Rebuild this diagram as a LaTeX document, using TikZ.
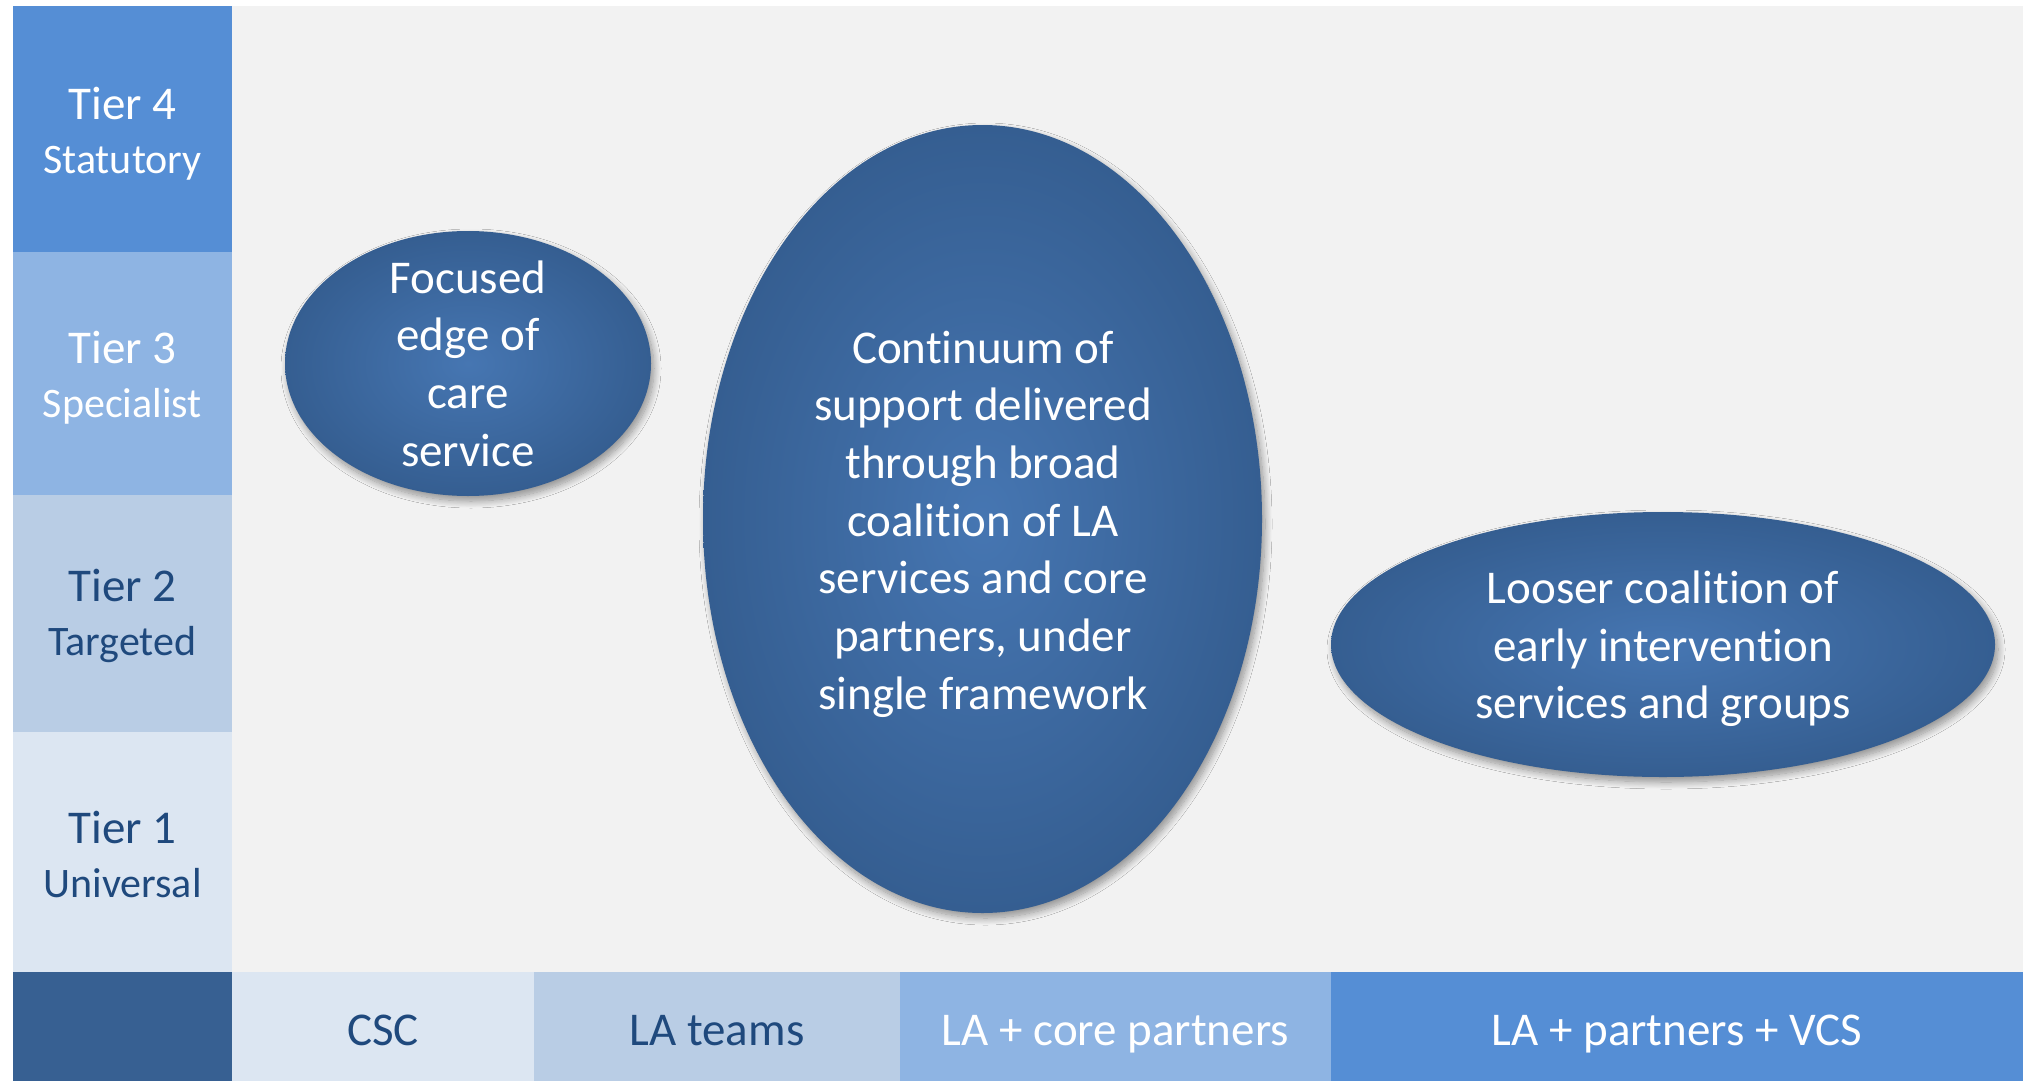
\documentclass[tikz,border=0pt]{standalone}
\usepackage{fontspec}
\setmainfont{Carlito}[RawFeature={-liga;-clig;-calt;-dlig}]
\usetikzlibrary{shapes.geometric,shadows.blur}
\definecolor{tierA}{HTML}{558ED5}
\definecolor{tierB}{HTML}{8EB4E3}
\definecolor{tierC}{HTML}{B9CDE5}
\definecolor{tierD}{HTML}{DCE6F2}
\definecolor{darkbox}{HTML}{376092}
\definecolor{bgGray}{HTML}{F2F2F2}
\definecolor{txtDark}{HTML}{1F497D}
\definecolor{ellIn}{HTML}{4676B2}
\definecolor{ellOut}{HTML}{355E91}
\begin{document}
\begin{tikzpicture}[x=1pt,y=-1pt,
  cell/.style={inner sep=0pt, outer sep=0pt, anchor=north west},
  big/.style={font=\fontsize{47}{57.7}\selectfont, inner sep=0pt, anchor=base},
  small/.style={font=\fontsize{42}{50}\selectfont, inner sep=0pt, anchor=base},
  ell/.style={ellipse, inner sep=0pt, shading=radial, inner color=ellIn, outer color=ellOut,
    blur shadow={shadow xshift=3pt, shadow yshift=-5pt, shadow blur radius=7pt, shadow blur steps=12, shadow opacity=40}},
  elltext/.style={align=center, text=white, font=\fontsize{47}{57.7}\selectfont, inner sep=0pt}
]
\useasboundingbox (0,0) rectangle (2023,1081);
\fill[white] (0,0) rectangle (2023,1081);
\node[cell, fill=bgGray, minimum width=1791pt, minimum height=966pt] (bg) at (232,6) {};
% tier column
\node[cell, fill=tierA, minimum width=219pt, minimum height=246pt] (t4) at (13,6) {};
\node[cell, fill=tierB, minimum width=219pt, minimum height=243pt] (t3) at (13,252) {};
\node[cell, fill=tierC, minimum width=219pt, minimum height=237pt] (t2) at (13,495) {};
\node[cell, fill=tierD, minimum width=219pt, minimum height=240pt] (t1) at (13,732) {};
\node[cell, fill=darkbox, minimum width=219pt, minimum height=109pt] (corner) at (13,972) {};
% bottom row
\node[cell, fill=tierD, minimum width=302pt, minimum height=109pt] (csc) at (232,972) {};
\node[cell, fill=tierC, minimum width=366pt, minimum height=109pt] (lat) at (534,972) {};
\node[cell, fill=tierB, minimum width=431pt, minimum height=109pt] (lac) at (900,972) {};
\node[cell, fill=tierA, minimum width=692pt, minimum height=109pt] (lav) at (1331,972) {};
% tier labels
\node[big, text=white] (t4a) at (122.5,119) {Tier 4};
\node[small, text=white] (t4b) at (122.5,173) {Statutory};
\node[big, text=white] (t3a) at (122.5,363) {Tier 3};
\node[small, text=white] (t3b) at (122.5,417) {Specialist};
\node[big, text=txtDark] (t2a) at (122.5,601.5) {Tier 2};
\node[small, text=txtDark] (t2b) at (122.5,655.5) {Targeted};
\node[big, text=txtDark] (t1a) at (122.5,843) {Tier 1};
\node[small, text=txtDark] (t1b) at (122.5,897) {Universal};
% bottom labels
\node[big, text=txtDark] (cscl) at (383,1045) {CSC};
\node[big, text=txtDark] (latl) at (717,1045) {LA teams};
\node[big, text=white] (lacl) at (1115.5,1045) {LA + core partners};
\node[big, text=white] (lavl) at (1677,1045) {LA + partners + VCS};
% ellipses
\node[ell, minimum width=366pt, minimum height=265pt] (e1) at (468,363.5) {};
\node[ell, minimum width=559pt, minimum height=788pt] (e2) at (982.5,519) {};
\node[ell, minimum width=664pt, minimum height=265pt] (e3) at (1663,644.5) {};
\node[elltext] (e1t) at (e1.center) {Focused\\edge of\\care\\service};
\node[elltext] (e2t) at (983,524) {Continuum of\\support delivered\\through broad\\coalition of LA\\services and core\\partners, under\\single framework};
\node[elltext] (e3t) at (1663,649) {Looser coalition of\\early intervention\\services and groups};
\end{tikzpicture}
\end{document}
